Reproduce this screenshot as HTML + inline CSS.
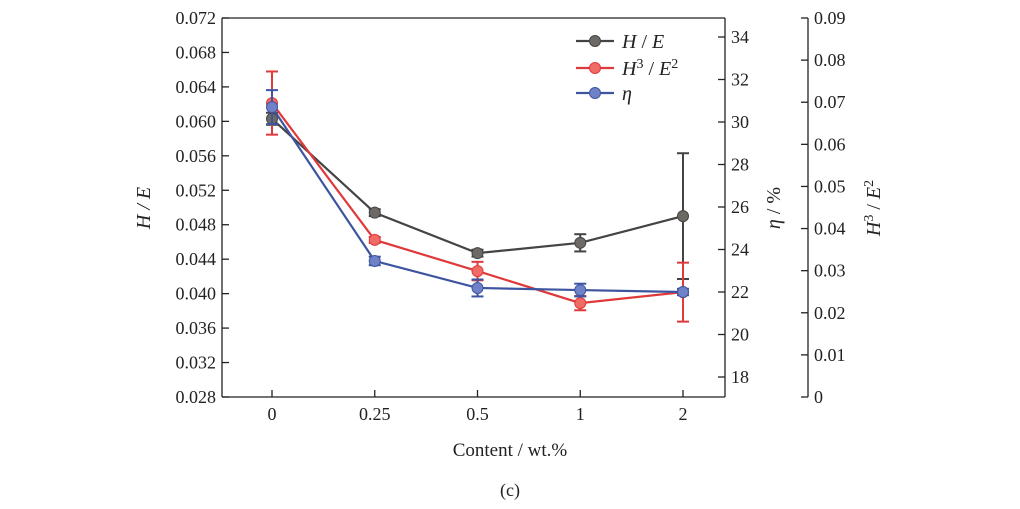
<!DOCTYPE html>
<html><head><meta charset="utf-8"><style>
body{margin:0;background:#fff;}
svg text{font-family:"Liberation Serif",serif;fill:#222;}
</style></head><body>
<svg width="1020" height="504" viewBox="0 0 1020 504" id="c"></svg>
<script>
const categories=["0","0.25","0.5","1","2"];
const heVals=[0.0603,0.0494,0.0447,0.0459,0.0490];
const heErr=[0.0007,0.0004,0.0004,0.001,0.0073];
const h3Vals=[0.0698,0.0373,0.0299,0.0223,0.0249];
const h3Err=[0.0075,0.0007,0.0022,0.0017,0.007];
const etaVals=[30.7,23.46,22.19,22.09,22.0];
const etaErr=[0.8,0.2,0.4,0.3,0.15];
const leftTicks=[0.028,0.032,0.036,0.040,0.044,0.048,0.052,0.056,0.060,0.064,0.068,0.072];
const etaTicks=[18,20,22,24,26,28,30,32,34];
const h3Ticks=[0,0.01,0.02,0.03,0.04,0.05,0.06,0.07,0.08,0.09];
const NS="http://www.w3.org/2000/svg",svg=document.getElementById('c');
const X0=222,X1=725,XR=808,Y0=397,Y1=18;
const x=i=>272+i*102.75;
const yL=v=>Y0-(v-0.028)/0.044*(Y0-Y1);
const yE=v=>37+(34-v)*21.25;
const yH=v=>Y0-v/0.09*(Y0-Y1);
function el(t,a,txt){const e=document.createElementNS(NS,t);for(const k in a)e.setAttribute(k,a[k]);if(txt!==undefined)e.textContent=txt;svg.appendChild(e);return e;}
function line(x1,y1,x2,y2,c,w){return el('line',{x1,y1,x2,y2,stroke:c,'stroke-width':w||1.3});}
let a=line(X0,Y1,X0,Y0,'#222');
a=line(X0,Y0,X1,Y0,'#222');
line(X0,Y1,X1,Y1,'#222');
a=line(X1,Y1,X1,Y0,'#222');
a=line(XR,Y1,XR,Y0,'#222');
leftTicks.forEach(v=>{const y=yL(v);line(X0,y,X0+7,y,'#222');
 const t=el('text',{x:X0-6,y:y+6,'text-anchor':'end','font-size':18},v.toFixed(3));
 });
etaTicks.forEach(v=>{const y=yE(v);line(X1-7,y,X1,y,'#222');
 const t=el('text',{x:X1+6,y:y+6,'font-size':18},v);
 });
h3Ticks.forEach(v=>{const y=yH(v);line(XR-7,y,XR,y,'#222');
 const t=el('text',{x:XR+6,y:y+6,'font-size':18},v===0?'0':v.toFixed(2));
 });
categories.forEach((c,i)=>{line(x(i),Y0,x(i),Y0-7,'#222');
 const t=el('text',{x:x(i),y:Y0+23,'text-anchor':'middle','font-size':18},c);
 });
let t=el('text',{x:510,y:456,'text-anchor':'middle','font-size':19},'Content / wt.%');
t=el('text',{x:510,y:496,'text-anchor':'middle','font-size':18},'(c)');
t=el('text',{transform:'translate(150,208) rotate(-90)','text-anchor':'middle','font-size':20,'font-style':'italic'},'H / E');
t=el('text',{transform:'translate(780,208) rotate(-90)','text-anchor':'middle','font-size':20},'');t.innerHTML='<tspan font-style="italic">η</tspan> / %';
t=el('text',{transform:'translate(880,208) rotate(-90)','text-anchor':'middle','font-size':20},'');t.innerHTML='<tspan font-style="italic">H</tspan><tspan dy="-7" font-size="14">3</tspan><tspan dy="7"> / </tspan><tspan font-style="italic">E</tspan><tspan dy="-7" font-size="14">2</tspan>';
function series(vals,errs,fy,col,fill,name){
 const g=document.createElementNS(NS,'g');svg.appendChild(g);
 
 el('polyline',{points:vals.map((v,i)=>x(i)+','+fy(v)).join(' '),fill:'none',stroke:col,'stroke-width':2.2});
 vals.forEach((v,i)=>{const yt=fy(v+errs[i]),yb=fy(v-errs[i]);
  line(x(i),yt,x(i),yb,col,2);line(x(i)-6,yt,x(i)+6,yt,col,2);line(x(i)-6,yb,x(i)+6,yb,col,2);
  const p=el('circle',{cx:x(i),cy:fy(v),r:5.5,fill:fill,stroke:col,'stroke-width':1});
  });
}
series(heVals,heErr,yL,'#444','#6d6a66','h-e');
series(h3Vals,h3Err,yH,'#e0393b','#f06a66','h3-e2');
series(etaVals,etaErr,yE,'#3d55a0','#6f82c8','eta');
const leg=[['#444','#6d6a66','<tspan font-style="italic">H</tspan> / <tspan font-style="italic">E</tspan>',41],
['#e0393b','#f06a66','<tspan font-style="italic">H</tspan><tspan dy="-7" font-size="14">3</tspan><tspan dy="7"> / </tspan><tspan font-style="italic">E</tspan><tspan dy="-7" font-size="14">2</tspan>',68],
['#3d55a0','#6f82c8','<tspan font-style="italic">η</tspan>',93]];
leg.forEach(l=>{line(576,l[3],614,l[3],l[0],2.2);el('circle',{cx:595,cy:l[3],r:5.5,fill:l[1],stroke:l[0]});
 const tx=el('text',{x:622,y:l[3]+7,'font-size':20},'');tx.innerHTML=l[2];
 });
</script>
</body></html>
